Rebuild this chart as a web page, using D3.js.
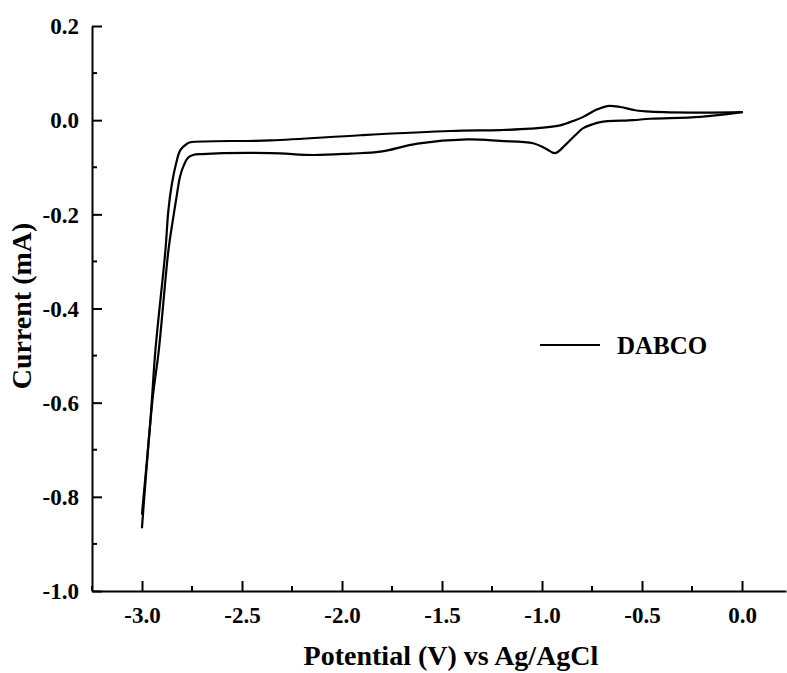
<!DOCTYPE html>
<html>
<head>
<meta charset="utf-8">
<script src="https://cdn.jsdelivr.net/npm/d3@7"></script>
<style>
  body { margin: 0; background: #fff; }
  text { font-family: "Liberation Serif", "Times New Roman", serif; font-weight: bold; }
</style>
</head>
<body>
<div id="chart"></div>
<script>
// barrido hacia potenciales negativos (0 -> -3 V)
const forwardV = [0.0, -0.209, -0.459, -0.544, -0.709, -0.749, -0.794, -0.834, -0.884, -0.934, -0.983, -1.044, -1.209, -1.373, -1.623, -1.808, -1.958, -2.143, -2.358, -2.700, -2.745, -2.770, -2.790, -2.810, -2.828, -2.845, -2.868, -2.916, -2.948, -3.0];
const forwardI = [0.017, 0.007, 0.003, 0.0, -0.004, -0.009, -0.017, -0.032, -0.053, -0.070, -0.060, -0.049, -0.044, -0.041, -0.050, -0.067, -0.071, -0.074, -0.070, -0.072, -0.074, -0.080, -0.095, -0.120, -0.165, -0.210, -0.277, -0.489, -0.596, -0.865];

// barrido de regreso (-3 -> 0 V)
const reverseV = [-3.0, -2.958, -2.933, -2.883, -2.868, -2.850, -2.829, -2.809, -2.775, -2.758, -2.358, -1.909, -1.458, -1.209, -1.059, -0.909, -0.834, -0.794, -0.734, -0.673, -0.609, -0.534, -0.459, -0.209, 0.0];
const reverseI = [-0.836, -0.638, -0.489, -0.277, -0.191, -0.134, -0.091, -0.064, -0.050, -0.047, -0.043, -0.032, -0.023, -0.021, -0.018, -0.011, 0.0, 0.007, 0.021, 0.030, 0.028, 0.021, 0.018, 0.016, 0.017];

const xTicks = [-3.0, -2.5, -2.0, -1.5, -1.0, -0.5, 0.0];
const yTicks = [0.2, 0.0, -0.2, -0.4, -0.6, -0.8, -1.0];
const seriesName = "DABCO";

const W = 787, H = 673;
const margin = { top: 26, right: 1, bottom: 82, left: 92 };

const svg = d3.select("#chart").append("svg")
    .attr("width", W)
    .attr("height", H);

const x = d3.scaleLinear().domain([-3.25, 0.22]).range([margin.left, W - margin.right]);
const y = d3.scaleLinear().domain([-1.0, 0.2]).range([H - margin.bottom, margin.top]);

// cada rama ordenada de forma creciente en V
const forward = forwardV.map((v, i) => [v, forwardI[i]]).sort((a, b) => a[0] - b[0]);
const reverse = reverseV.map((v, i) => [v, reverseI[i]]).sort((a, b) => a[0] - b[0]);

const line = d3.line()
    .x(d => x(d[0]))
    .y(d => y(d[1]))
    .curve(d3.curveCatmullRom.alpha(0.5));

svg.selectAll(".branch")
    .data([forward, reverse])
    .join("path")
    .attr("class", "branch")
    .attr("fill", "none")
    .attr("stroke", "#000")
    .attr("stroke-width", 2.2)
    .attr("stroke-linejoin", "round")
    .attr("stroke-linecap", "round")
    .attr("d", line);

// eje X (ticks hacia dentro)
const minorX = [-3.25, -2.75, -2.25, -1.75, -1.25, -0.75, -0.25];
const gx = svg.append("g").attr("transform", `translate(0,${H - margin.bottom})`);
gx.call(d3.axisBottom(x).tickValues(xTicks).tickSize(-10).tickSizeOuter(0).tickPadding(18).tickFormat(d3.format(".1f")));
gx.append("g").selectAll("line").data(minorX).join("line")
    .attr("x1", d => x(d)).attr("x2", d => x(d))
    .attr("y1", 0).attr("y2", -5)
    .attr("stroke", "#000").attr("stroke-width", 2);

// eje Y
const minorY = [0.1, -0.1, -0.3, -0.5, -0.7, -0.9];
const gy = svg.append("g").attr("transform", `translate(${margin.left},0)`);
gy.call(d3.axisLeft(y).tickValues(yTicks).tickSize(-10).tickSizeOuter(0).tickPadding(13).tickFormat(d3.format(".1f")));
gy.append("g").selectAll("line").data(minorY).join("line")
    .attr("y1", d => y(d)).attr("y2", d => y(d))
    .attr("x1", 0).attr("x2", 5)
    .attr("stroke", "#000").attr("stroke-width", 2);

[gx, gy].forEach(g => {
    g.select(".domain").attr("stroke-width", 2);
    g.selectAll(".tick line").attr("stroke-width", 2);
    g.selectAll(".tick text")
        .attr("font-size", 23)
        .attr("font-family", "Liberation Serif")
        .attr("font-weight", "bold")
        .attr("fill", "#000")
        .text(d => d3.format(".1f")(d).replace("−", "-"));
});
gx.selectAll(".tick text").attr("y", 16);
gy.selectAll(".tick text").attr("dy", "0.34em");

// títulos de ejes
svg.append("text")
    .attr("x", 451)
    .attr("y", 665)
    .attr("text-anchor", "middle")
    .attr("font-size", 28)
    .text("Potential (V) vs Ag/AgCl");

svg.append("text")
    .attr("transform", "translate(31,306) rotate(-90)")
    .attr("text-anchor", "middle")
    .attr("font-size", 28)
    .text("Current (mA)");

// leyenda
svg.append("line")
    .attr("x1", 540).attr("x2", 600)
    .attr("y1", 345).attr("y2", 345)
    .attr("stroke", "#000").attr("stroke-width", 2.2);

svg.append("text")
    .attr("x", 617)
    .attr("y", 354)
    .attr("font-size", 25)
    .text(seriesName);
</script>
</body>
</html>
